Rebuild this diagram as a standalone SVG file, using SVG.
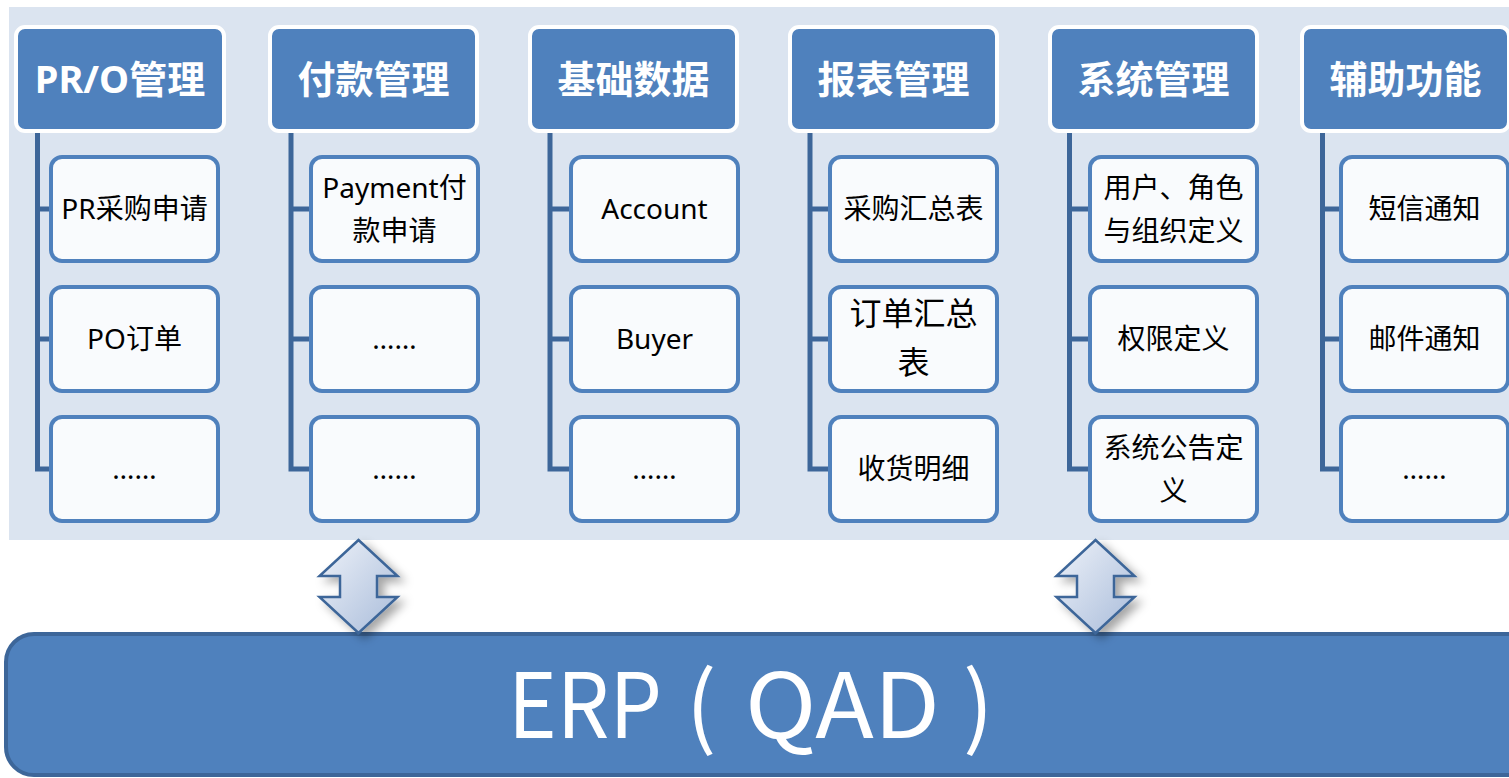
<svg xmlns="http://www.w3.org/2000/svg" width="1509" height="778" viewBox="0 0 1509 778">
<style>
.hdr{fill:#4f81bd;stroke:#ffffff;stroke-width:4}
.box{fill:#f9fbfd;stroke:#4f81bd;stroke-width:4}
.ht{font-family:"Noto Sans","Noto Sans CJK SC",sans-serif;font-weight:bold;font-size:38px;fill:#ffffff;text-anchor:middle}
.bt{font-family:"Noto Sans","Noto Sans CJK SC",sans-serif;font-size:28px;fill:#000000;text-anchor:middle}
.et{font-family:"Noto Sans CJK SC","Noto Sans",sans-serif;font-size:90px;fill:#ffffff}
.conn{fill:none;stroke:#3d6699;stroke-width:5}
.arr{fill:url(#ag);stroke:#3d6699;stroke-width:2.5;stroke-linejoin:miter;filter:url(#sh)}
</style>
<defs>
<linearGradient id="ag" x1="0" y1="0" x2="1" y2="1">
<stop offset="0" stop-color="#eef2f9"/>
<stop offset="1" stop-color="#a9bcda"/>
</linearGradient>
<filter id="sh" x="-40%" y="-30%" width="200%" height="170%">
<feDropShadow dx="6" dy="5" stdDeviation="5" flood-color="#000" flood-opacity="0.35"/>
</filter>
</defs>
<rect x="9" y="7" width="1500" height="533" fill="#dbe4f0"/>

<g id="connectors">
<path class="conn" d="M37.5,131 V469 H51 M37.5,209 H51 M37.5,339 H51"/>
<path class="conn" d="M291,131 V469 H311 M291,209 H311 M291,339 H311"/>
<path class="conn" d="M550,131 V469 H571 M550,209 H571 M550,339 H571"/>
<path class="conn" d="M810,131 V469 H830 M810,209 H830 M810,339 H830"/>
<path class="conn" d="M1069.5,131 V469 H1090 M1069.5,209 H1090 M1069.5,339 H1090"/>
<path class="conn" d="M1322.5,131 V469 H1341 M1322.5,209 H1341 M1322.5,339 H1341"/>
</g>

<g id="h0"><rect class="hdr" x="16" y="27" width="208" height="104" rx="9"/><text class="ht" x="120" y="93">PR/O管理</text></g>
<g id="h1"><rect class="hdr" x="270" y="27" width="207" height="104" rx="9"/><text class="ht" x="373.5" y="93">付款管理</text></g>
<g id="h2"><rect class="hdr" x="530" y="27" width="207" height="104" rx="9"/><text class="ht" x="633.5" y="93">基础数据</text></g>
<g id="h3"><rect class="hdr" x="790" y="27" width="207" height="104" rx="9"/><text class="ht" x="893.5" y="93">报表管理</text></g>
<g id="h4"><rect class="hdr" x="1050" y="27" width="207" height="104" rx="9"/><text class="ht" x="1153.5" y="93">系统管理</text></g>
<g id="h5"><rect class="hdr" x="1302" y="27" width="207" height="104" rx="9"/><text class="ht" x="1405.5" y="93">辅助功能</text></g>

<g id="c0r0"><rect class="box" x="51" y="157" width="167" height="104" rx="11"/><text class="bt" x="134.5" y="219">PR采购申请</text></g>
<g id="c0r1"><rect class="box" x="51" y="287" width="167" height="104" rx="11"/><text class="bt" x="134.5" y="349">PO订单</text></g>
<g id="c0r2"><rect class="box" x="51" y="417" width="167" height="104" rx="11"/><text class="bt" x="134.5" y="479">……</text></g>

<g id="c1r0"><rect class="box" x="311" y="157" width="167" height="104" rx="11"/><text class="bt" x="394.5" y="198">Payment付</text><text class="bt" x="394.5" y="241">款申请</text></g>
<g id="c1r1"><rect class="box" x="311" y="287" width="167" height="104" rx="11"/><text class="bt" x="394.5" y="349">……</text></g>
<g id="c1r2"><rect class="box" x="311" y="417" width="167" height="104" rx="11"/><text class="bt" x="394.5" y="479">……</text></g>

<g id="c2r0"><rect class="box" x="571" y="157" width="167" height="104" rx="11"/><text class="bt" x="654.5" y="219">Account</text></g>
<g id="c2r1"><rect class="box" x="571" y="287" width="167" height="104" rx="11"/><text class="bt" x="654.5" y="349">Buyer</text></g>
<g id="c2r2"><rect class="box" x="571" y="417" width="167" height="104" rx="11"/><text class="bt" x="654.5" y="479">……</text></g>

<g id="c3r0"><rect class="box" x="830" y="157" width="167" height="104" rx="11"/><text class="bt" x="913.5" y="219">采购汇总表</text></g>
<g id="c3r1"><rect class="box" x="830" y="287" width="167" height="104" rx="11"/><text class="bt" x="913.5" y="325" style="font-size:32px">订单汇总</text><text class="bt" x="913.5" y="374" style="font-size:32px">表</text></g>
<g id="c3r2"><rect class="box" x="830" y="417" width="167" height="104" rx="11"/><text class="bt" x="913.5" y="479">收货明细</text></g>

<g id="c4r0"><rect class="box" x="1090" y="157" width="167" height="104" rx="11"/><text class="bt" x="1173.5" y="198">用户、角色</text><text class="bt" x="1173.5" y="241">与组织定义</text></g>
<g id="c4r1"><rect class="box" x="1090" y="287" width="167" height="104" rx="11"/><text class="bt" x="1173.5" y="349">权限定义</text></g>
<g id="c4r2"><rect class="box" x="1090" y="417" width="167" height="104" rx="11"/><text class="bt" x="1173.5" y="458">系统公告定</text><text class="bt" x="1173.5" y="501">义</text></g>

<g id="c5r0"><rect class="box" x="1341" y="157" width="167" height="104" rx="11"/><text class="bt" x="1424.5" y="219">短信通知</text></g>
<g id="c5r1"><rect class="box" x="1341" y="287" width="167" height="104" rx="11"/><text class="bt" x="1424.5" y="349">邮件通知</text></g>
<g id="c5r2"><rect class="box" x="1341" y="417" width="167" height="104" rx="11"/><text class="bt" x="1424.5" y="479">……</text></g>

<g id="erp"><rect x="6" y="634" width="1540" height="141" rx="28" fill="#4f81bd" stroke="#3d6699" stroke-width="4"/>
<text class="et" y="738"><tspan x="508" textLength="154" lengthAdjust="spacingAndGlyphs">ERP</tspan><tspan x="686">(</tspan><tspan x="745" textLength="195" lengthAdjust="spacingAndGlyphs">QAD</tspan><tspan x="963">)</tspan></text></g>

<g id="arrow1"><path class="arr" d="M358.5,540 L397.5,576 L377,576 L377,597 L397.5,597 L358.5,633 L319.5,597 L340,597 L340,576 L319.5,576 Z"/></g>
<g id="arrow2"><path class="arr" d="M1095.5,540 L1134.5,576 L1114,576 L1114,597 L1134.5,597 L1095.5,633 L1056.5,597 L1077,597 L1077,576 L1056.5,576 Z"/></g>
</svg>
